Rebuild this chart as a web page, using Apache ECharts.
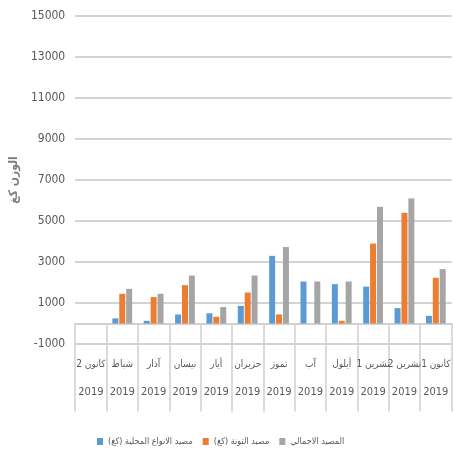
<!DOCTYPE html>
<html>
<head>
<meta charset="utf-8">
<script src="https://cdn.jsdelivr.net/npm/echarts@6/dist/echarts.min.js"></script>
<style>
    html, body { margin: 0; padding: 0; background: #fff; }
    #chart { width: 453px; height: 454px; }
</style>
</head>
<body>
<div id="chart"></div>
<script>
// 月份 / 年份
var months = ['كانون 2', 'شباط', 'آذار', 'نيسان', 'أيار', 'حزيران', 'تموز', 'آب', 'أيلول', 'تشرين 1', 'تشرين 2', 'كانون 1'];
var years = ['2019', '2019', '2019', '2019', '2019', '2019', '2019', '2019', '2019', '2019', '2019', '2019'];

// 三组柱状数据 (كغ)
var localCatch = [0, 250, 130, 440, 500, 860, 3300, 2050, 1920, 1800, 750, 375];
var tunaCatch = [0, 1450, 1290, 1870, 330, 1510, 440, 0, 130, 3900, 5400, 2230];
var totalCatch = [0, 1690, 1450, 2340, 800, 2340, 3730, 2050, 2050, 5690, 6100, 2650];

// y轴刻度值
var yTicks = [-1000, 1000, 3000, 5000, 7000, 9000, 11000, 13000, 15000];

var seriesNames = ['مصيد الانواع المحلية (كغ)', 'مصيد التونة (كغ)', 'المصيد الاجمالي'];
var colors = ['#5B9BD5', '#ED7D31', '#A5A5A5'];

var narrowFont = '"DejaVu Sans Condensed", "Liberation Sans Narrow", sans-serif';
var lineColor = '#d0d0d0';

function barSeries(name, data, color) {
    return {
        name: name,
        type: 'bar',
        data: data,
        barWidth: 6,
        barGap: '15%',
        z: 3,
        itemStyle: { color: color }
    };
}

// 网格线 (用 markLine 画在柱子下面)
function gridSeries() {
    return {
        type: 'line',
        data: [],
        silent: true,
        z: 1,
        markLine: {
            silent: true,
            z: 1,
            symbol: ['none', 'none'],
            label: { show: false },
            emphasis: { disabled: true },
            lineStyle: { color: lineColor, width: 1.5, type: 'solid' },
            data: yTicks.map(function (v) { return { yAxis: v }; })
        }
    };
}

var myChart = echarts.init(document.getElementById('chart'));
var option = {
    animation: false,
    color: colors,
    grid: {
        left: 65,
        right: 0,
        top: 16,
        bottom: 110
    },
    legend: {
        top: 432,
        left: 92,
        itemWidth: 6,
        itemHeight: 7,
        itemGap: 10,
        icon: 'rect',
        textStyle: { color: '#595959', fontSize: 9, fontFamily: narrowFont },
        data: seriesNames
    },
    xAxis: [
        {   // 月份 (在零线上)
            type: 'category',
            data: months,
            axisLine: { show: true, onZero: true, lineStyle: { color: lineColor, width: 2 } },
            axisTick: { show: true, length: 88, lineStyle: { color: lineColor, width: 1.5 } },
            axisLabel: {
                interval: 0,
                margin: 15,
                color: '#595959',
                fontSize: 10,
                fontFamily: narrowFont
            }
        },
        {   // 年份
            type: 'category',
            data: years,
            position: 'bottom',
            axisLine: { show: false, onZero: false },
            axisTick: { show: false },
            axisLabel: {
                interval: 0,
                margin: 43,
                color: '#595959',
                fontSize: 11,
                fontFamily: narrowFont
            }
        }
    ],
    yAxis: {
        type: 'value',
        min: -1000,
        max: 15000,
        interval: 2000,
        name: 'الوزن كغ',
        nameLocation: 'middle',
        nameRotate: 90,
        nameGap: 41,
        nameTextStyle: { color: '#7f7f7f', fontSize: 12, fontWeight: 'bold', fontFamily: narrowFont },
        axisLabel: {
            color: '#595959',
            fontSize: 12,
            margin: 10,
            fontFamily: narrowFont,
            formatter: function (v) { return String(v); }
        },
        splitLine: { show: true, lineStyle: { color: lineColor, width: 1.5 } }
    },
    series: [
        gridSeries(),
        barSeries(seriesNames[0], localCatch, colors[0]),
        barSeries(seriesNames[1], tunaCatch, colors[1]),
        barSeries(seriesNames[2], totalCatch, colors[2])
    ]
};

myChart.setOption(option);
</script>
</body>
</html>
